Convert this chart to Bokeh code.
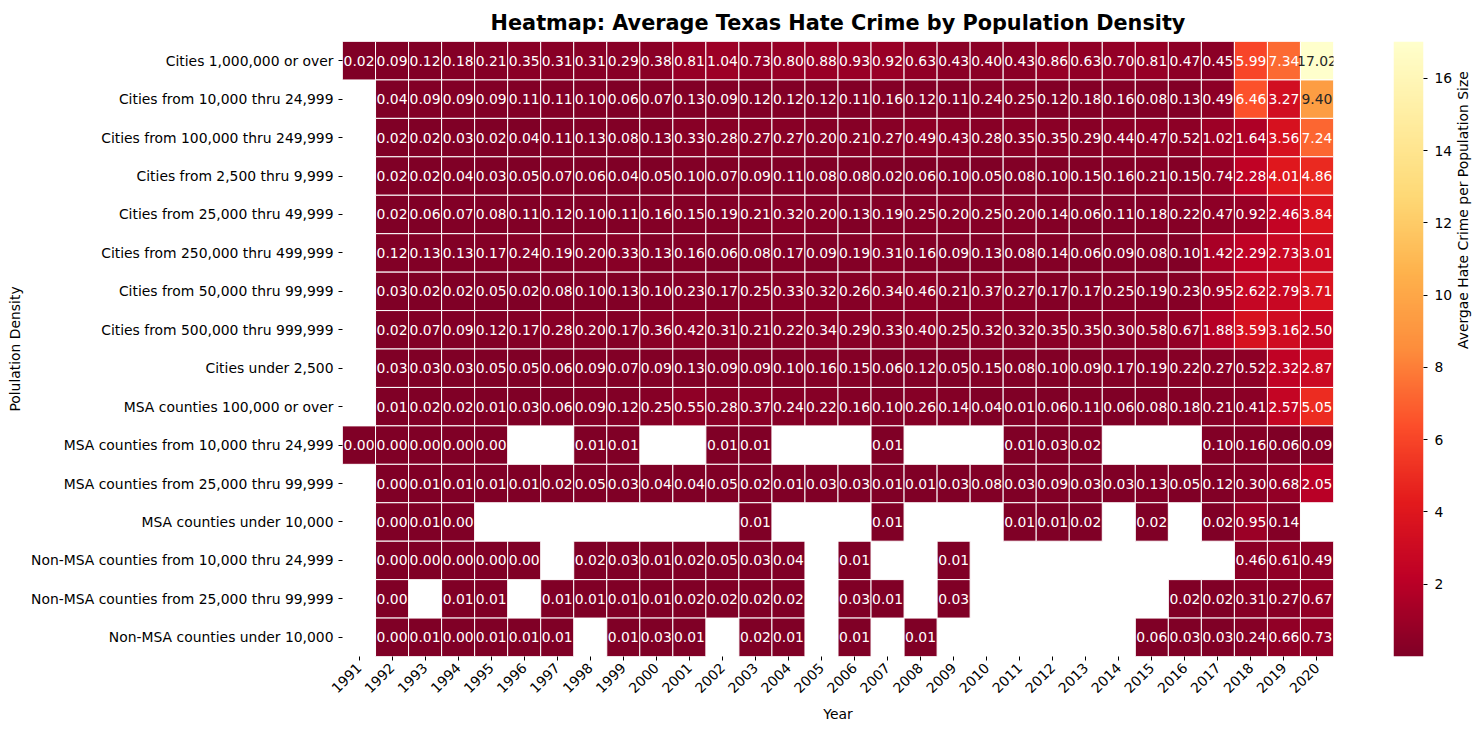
import numpy as np
from bokeh.plotting import figure
from bokeh.models import ColumnDataSource, FactorRange, Range1d, LinearColorMapper, FixedTicker
from bokeh.layouts import row
from bokeh.embed import file_html
from bokeh.resources import INLINE
from bokeh.core.properties import value
from bokeh.palettes import YlOrRd9

N = None
years = [str(y) for y in range(1991, 2021)]
categories = [
    "Cities 1,000,000 or over",
    "Cities from 10,000 thru 24,999",
    "Cities from 100,000 thru 249,999",
    "Cities from 2,500 thru 9,999",
    "Cities from 25,000 thru 49,999",
    "Cities from 250,000 thru 499,999",
    "Cities from 50,000 thru 99,999",
    "Cities from 500,000 thru 999,999",
    "Cities under 2,500",
    "MSA counties 100,000 or over",
    "MSA counties from 10,000 thru 24,999",
    "MSA counties from 25,000 thru 99,999",
    "MSA counties under 10,000",
    "Non-MSA counties from 10,000 thru 24,999",
    "Non-MSA counties from 25,000 thru 99,999",
    "Non-MSA counties under 10,000",
]

cities_1m_or_over = [0.02, 0.09, 0.12, 0.18, 0.21, 0.35, 0.31, 0.31, 0.29, 0.38, 0.81, 1.04, 0.73, 0.80, 0.88, 0.93, 0.92, 0.63, 0.43, 0.40, 0.43, 0.86, 0.63, 0.70, 0.81, 0.47, 0.45, 5.99, 7.34, 17.02]
cities_10k_25k = [N, 0.04, 0.09, 0.09, 0.09, 0.11, 0.11, 0.10, 0.06, 0.07, 0.13, 0.09, 0.12, 0.12, 0.12, 0.11, 0.16, 0.12, 0.11, 0.24, 0.25, 0.12, 0.18, 0.16, 0.08, 0.13, 0.49, 6.46, 3.27, 9.40]
cities_100k_250k = [N, 0.02, 0.02, 0.03, 0.02, 0.04, 0.11, 0.13, 0.08, 0.13, 0.33, 0.28, 0.27, 0.27, 0.20, 0.21, 0.27, 0.49, 0.43, 0.28, 0.35, 0.35, 0.29, 0.44, 0.47, 0.52, 1.02, 1.64, 3.56, 7.24]
cities_2500_10k = [N, 0.02, 0.02, 0.04, 0.03, 0.05, 0.07, 0.06, 0.04, 0.05, 0.10, 0.07, 0.09, 0.11, 0.08, 0.08, 0.02, 0.06, 0.10, 0.05, 0.08, 0.10, 0.15, 0.16, 0.21, 0.15, 0.74, 2.28, 4.01, 4.86]
cities_25k_50k = [N, 0.02, 0.06, 0.07, 0.08, 0.11, 0.12, 0.10, 0.11, 0.16, 0.15, 0.19, 0.21, 0.32, 0.20, 0.13, 0.19, 0.25, 0.20, 0.25, 0.20, 0.14, 0.06, 0.11, 0.18, 0.22, 0.47, 0.92, 2.46, 3.84]
cities_250k_500k = [N, 0.12, 0.13, 0.13, 0.17, 0.24, 0.19, 0.20, 0.33, 0.13, 0.16, 0.06, 0.08, 0.17, 0.09, 0.19, 0.31, 0.16, 0.09, 0.13, 0.08, 0.14, 0.06, 0.09, 0.08, 0.10, 1.42, 2.29, 2.73, 3.01]
cities_50k_100k = [N, 0.03, 0.02, 0.02, 0.05, 0.02, 0.08, 0.10, 0.13, 0.10, 0.23, 0.17, 0.25, 0.33, 0.32, 0.26, 0.34, 0.46, 0.21, 0.37, 0.27, 0.17, 0.17, 0.25, 0.19, 0.23, 0.95, 2.62, 2.79, 3.71]
cities_500k_1m = [N, 0.02, 0.07, 0.09, 0.12, 0.17, 0.28, 0.20, 0.17, 0.36, 0.42, 0.31, 0.21, 0.22, 0.34, 0.29, 0.33, 0.40, 0.25, 0.32, 0.32, 0.35, 0.35, 0.30, 0.58, 0.67, 1.88, 3.59, 3.16, 2.50]
cities_under_2500 = [N, 0.03, 0.03, 0.03, 0.05, 0.05, 0.06, 0.09, 0.07, 0.09, 0.13, 0.09, 0.09, 0.10, 0.16, 0.15, 0.06, 0.12, 0.05, 0.15, 0.08, 0.10, 0.09, 0.17, 0.19, 0.22, 0.27, 0.52, 2.32, 2.87]
msa_100k_over = [N, 0.01, 0.02, 0.02, 0.01, 0.03, 0.06, 0.09, 0.12, 0.25, 0.55, 0.28, 0.37, 0.24, 0.22, 0.16, 0.10, 0.26, 0.14, 0.04, 0.01, 0.06, 0.11, 0.06, 0.08, 0.18, 0.21, 0.41, 2.57, 5.05]
msa_10k_25k = [0.00, 0.00, 0.00, 0.00, 0.00, N, N, 0.01, 0.01, N, N, 0.01, 0.01, N, N, N, 0.01, N, N, N, 0.01, 0.03, 0.02, N, N, N, 0.10, 0.16, 0.06, 0.09]
msa_25k_100k = [N, 0.00, 0.01, 0.01, 0.01, 0.01, 0.02, 0.05, 0.03, 0.04, 0.04, 0.05, 0.02, 0.01, 0.03, 0.03, 0.01, 0.01, 0.03, 0.08, 0.03, 0.09, 0.03, 0.03, 0.13, 0.05, 0.12, 0.30, 0.68, 2.05]
msa_under_10k = [N, 0.00, 0.01, 0.00, N, N, N, N, N, N, N, N, 0.01, N, N, N, 0.01, N, N, N, 0.01, 0.01, 0.02, N, 0.02, N, 0.02, 0.95, 0.14, N]
nonmsa_10k_25k = [N, 0.00, 0.00, 0.00, 0.00, 0.00, N, 0.02, 0.03, 0.01, 0.02, 0.05, 0.03, 0.04, N, 0.01, N, N, 0.01, N, N, N, N, N, N, N, N, 0.46, 0.61, 0.49]
nonmsa_25k_100k = [N, 0.00, N, 0.01, 0.01, N, 0.01, 0.01, 0.01, 0.01, 0.02, 0.02, 0.02, 0.02, N, 0.03, 0.01, N, 0.03, N, N, N, N, N, N, 0.02, 0.02, 0.31, 0.27, 0.67]
nonmsa_under_10k = [N, 0.00, 0.01, 0.00, 0.01, 0.01, 0.01, N, 0.01, 0.03, 0.01, N, 0.02, 0.01, N, 0.01, N, 0.01, N, N, N, N, N, N, 0.06, 0.03, 0.03, 0.24, 0.66, 0.73]

rows = [cities_1m_or_over, cities_10k_25k, cities_100k_250k, cities_2500_10k, cities_25k_50k,
        cities_250k_500k, cities_50k_100k, cities_500k_1m, cities_under_2500, msa_100k_over,
        msa_10k_25k, msa_25k_100k, msa_under_10k, nonmsa_10k_25k, nonmsa_25k_100k, nonmsa_under_10k]

colorbar_ticks = [2, 4, 6, 8, 10, 12, 14, 16]
title_text = "Heatmap: Average Texas Hate Crime by Population Density"
x_label = "Year"
y_label = "Polulation Density"
cbar_label = "Avergae Hate Crime per Population Size"

# --- palette (YlOrRd reversed, 256 steps) ---
def hex_to_rgb(h):
    h = h.lstrip("#")
    return [int(h[i:i + 2], 16) / 255 for i in (0, 2, 4)]

base = np.array([hex_to_rgb(c) for c in YlOrRd9])  # dark -> light
pos = np.linspace(0, 1, len(base))
t = np.linspace(0, 1, 256)
interp = np.stack([np.interp(t, pos, base[:, k]) for k in range(3)], axis=1)
palette = ["#%02x%02x%02x" % tuple(int(round(v * 255)) for v in c) for c in interp]

vals_all = [v for r in rows for v in r if v is not None]
low, high = 0.0, max(vals_all)
mapper = LinearColorMapper(palette=palette, low=low, high=high)

def lum(rgb):
    lin = [c / 12.92 if c <= 0.03928 else ((c + 0.055) / 1.055) ** 2.4 for c in rgb]
    return 0.2126 * lin[0] + 0.7152 * lin[1] + 0.0722 * lin[2]

xs, ys, vs, labels, fills, tcols = [], [], [], [], [], []
for cat, r in zip(categories, rows):
    for yr, v in zip(years, r):
        if v is None:
            continue
        idx = int(min(255, max(0, np.floor((v - low) / (high - low) * 256))))
        col = palette[idx]
        xs.append(yr)
        ys.append(cat)
        vs.append(v)
        labels.append(f"{v:.2f}")
        fills.append(col)
        tcols.append("#262626" if lum(hex_to_rgb(col)) > 0.408 else "white")

src = ColumnDataSource(dict(x=xs, y=ys, v=vs, label=labels, fill=fills, tcol=tcols))

FONT = "DejaVu Sans"
p = figure(x_range=FactorRange(*years), y_range=FactorRange(*list(reversed(categories))),
           frame_width=991, frame_height=615, min_border_left=342, min_border_right=4,
           min_border_top=41, min_border_bottom=60,
           output_backend="svg", toolbar_location=None, tools="", title=title_text)
p.rect(x="x", y="y", width=1, height=1, source=src, fill_color="fill",
       line_color="white", line_width=1)
p.text(x="x", y="y", text="label", source=src, text_align="center", text_baseline="middle",
       text_font=value(FONT), text_font_size="13.9px", text_color="tcol")

p.title.align = "center"
p.title.text_font = FONT
p.title.text_font_size = "20.8px"
p.title.text_font_style = "bold"
p.title.text_color = "black"
p.title.standoff = 14
p.outline_line_color = None
p.xgrid.grid_line_color = None
p.ygrid.grid_line_color = None
for ax in (p.xaxis[0], p.yaxis[0]):
    ax.axis_line_color = None
    ax.major_tick_in = 0
    ax.major_tick_out = 4
    ax.major_tick_line_color = "black"
    ax.minor_tick_line_color = None
    ax.major_label_text_font = FONT
    ax.major_label_text_font_size = "13.9px"
    ax.major_label_text_color = "black"
    ax.axis_label_text_font = FONT
    ax.axis_label_text_font_size = "13.9px"
    ax.axis_label_text_font_style = "normal"
    ax.axis_label_text_color = "black"
p.xaxis.axis_label = x_label
p.yaxis.axis_label = y_label
p.xaxis.major_label_orientation = np.pi / 4

# --- colorbar figure ---
cb = figure(x_range=Range1d(0, 1), y_range=Range1d(low, high), frame_width=30, frame_height=615,
            min_border_left=56, min_border_right=30, min_border_top=41, min_border_bottom=60,
            y_axis_location="right", x_axis_location=None,
            output_backend="svg", toolbar_location=None, tools="")
grad = np.linspace(low, high, 256).reshape(-1, 1)
cb.image(image=[grad], x=0, y=low, dw=1, dh=high - low, color_mapper=mapper)
cb.outline_line_color = None
cb.xgrid.grid_line_color = None
cb.ygrid.grid_line_color = None
ya = cb.yaxis[0]
ya.ticker = FixedTicker(ticks=colorbar_ticks)
ya.axis_line_color = None
ya.major_tick_in = 0
ya.major_tick_out = 4
ya.major_tick_line_color = "black"
ya.minor_tick_line_color = None
ya.major_label_standoff = 7
ya.major_label_text_font = FONT
ya.major_label_text_font_size = "13.9px"
ya.major_label_text_color = "black"
ya.axis_label = cbar_label
ya.axis_label_standoff = 8
ya.axis_label_text_font = FONT
ya.axis_label_text_font_size = "13.9px"
ya.axis_label_text_font_style = "normal"
ya.axis_label_text_color = "black"
if "axis_label_orientation" in ya.properties():
    ya.axis_label_orientation = np.pi / 2

layout = row(p, cb)
open("out.html", "w").write(file_html(layout, INLINE))
